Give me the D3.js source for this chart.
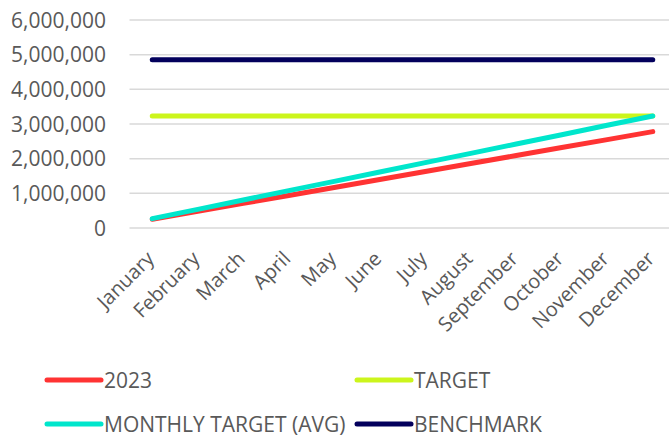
<!DOCTYPE html>
<html>
<head>
<meta charset="utf-8">
<script src="https://cdn.jsdelivr.net/npm/d3@7"></script>
<style>
  body { margin: 0; background: #fff; }
  text { font-family: "Open Sans", sans-serif; fill: #595959; }
</style>
</head>
<body>
<div id="chart"></div>
<script>
const months = ['January', 'February', 'March', 'April', 'May', 'June', 'July',
  'August', 'September', 'October', 'November', 'December'];
const yTicks = [0, 1000000, 2000000, 3000000, 4000000, 5000000, 6000000];

const actual2023 = [250000, 480000, 710000, 940000, 1170000, 1400000, 1630000,
  1860000, 2090000, 2320000, 2550000, 2780000];
const target = [3230000, 3230000, 3230000, 3230000, 3230000, 3230000, 3230000,
  3230000, 3230000, 3230000, 3230000, 3230000];
const monthlyTarget = [269000, 538000, 808000, 1077000, 1346000, 1615000, 1885000,
  2154000, 2423000, 2692000, 2962000, 3230000];
const benchmark = [4850000, 4850000, 4850000, 4850000, 4850000, 4850000, 4850000,
  4850000, 4850000, 4850000, 4850000, 4850000];

const series = [
  { name: '2023', values: actual2023, color: '#ff3333' },
  { name: 'TARGET', values: target, color: '#ccf51c' },
  { name: 'MONTHLY TARGET (AVG)', values: monthlyTarget, color: '#00e6cc' },
  { name: 'BENCHMARK', values: benchmark, color: '#03005c' }
];

const width = 669, height = 437;
const svg = d3.select('#chart').append('svg')
  .attr('width', width).attr('height', height);

const x = d3.scaleBand().domain(months).range([129.5, 675.5]);
const y = d3.scaleLinear().domain([0, 6000000]).range([228, 20]);

// gridlines
svg.append('g').selectAll('line')
  .data(yTicks)
  .join('line')
  .attr('x1', 129.5).attr('x2', 675.5)
  .attr('y1', d => y(d)).attr('y2', d => y(d))
  .attr('stroke', '#d9d9d9').attr('stroke-width', 1.5);

// y labels
svg.append('g').selectAll('text')
  .data(yTicks)
  .join('text')
  .attr('x', 106).attr('y', d => y(d))
  .attr('dy', '0.36em')
  .attr('text-anchor', 'end')
  .style('font-size', '21px')
  .text(d => d3.format(',')(d));

// x labels
svg.append('g').selectAll('text')
  .data(months)
  .join('text')
  .attr('text-anchor', 'end')
  .attr('transform', d => `translate(${x(d) + x.bandwidth() / 2 + 3},260) rotate(-45)`)
  .style('font-size', '20px')
  .text(d => d);

const line = d3.line()
  .x((d, i) => x(months[i]) + x.bandwidth() / 2)
  .y(d => y(d));

svg.append('g').selectAll('path')
  .data(series)
  .join('path')
  .attr('d', d => line(d.values))
  .attr('fill', 'none')
  .attr('stroke', d => d.color)
  .attr('stroke-width', 5)
  .attr('stroke-linecap', 'round')
  .attr('stroke-linejoin', 'round');

// legend
const legendPos = [[47, 380], [357, 380], [47, 424], [357, 424]];
const legend = svg.append('g').selectAll('g')
  .data(series)
  .join('g')
  .attr('transform', (d, i) => `translate(${legendPos[i][0]},${legendPos[i][1]})`);

legend.append('line')
  .attr('x1', 0).attr('x2', 54)
  .attr('stroke', d => d.color)
  .attr('stroke-width', 5)
  .attr('stroke-linecap', 'round');

legend.append('text')
  .attr('x', 57).attr('dy', '0.36em')
  .style('font-size', '21px')
  .text(d => d.name);
</script>
</body>
</html>
